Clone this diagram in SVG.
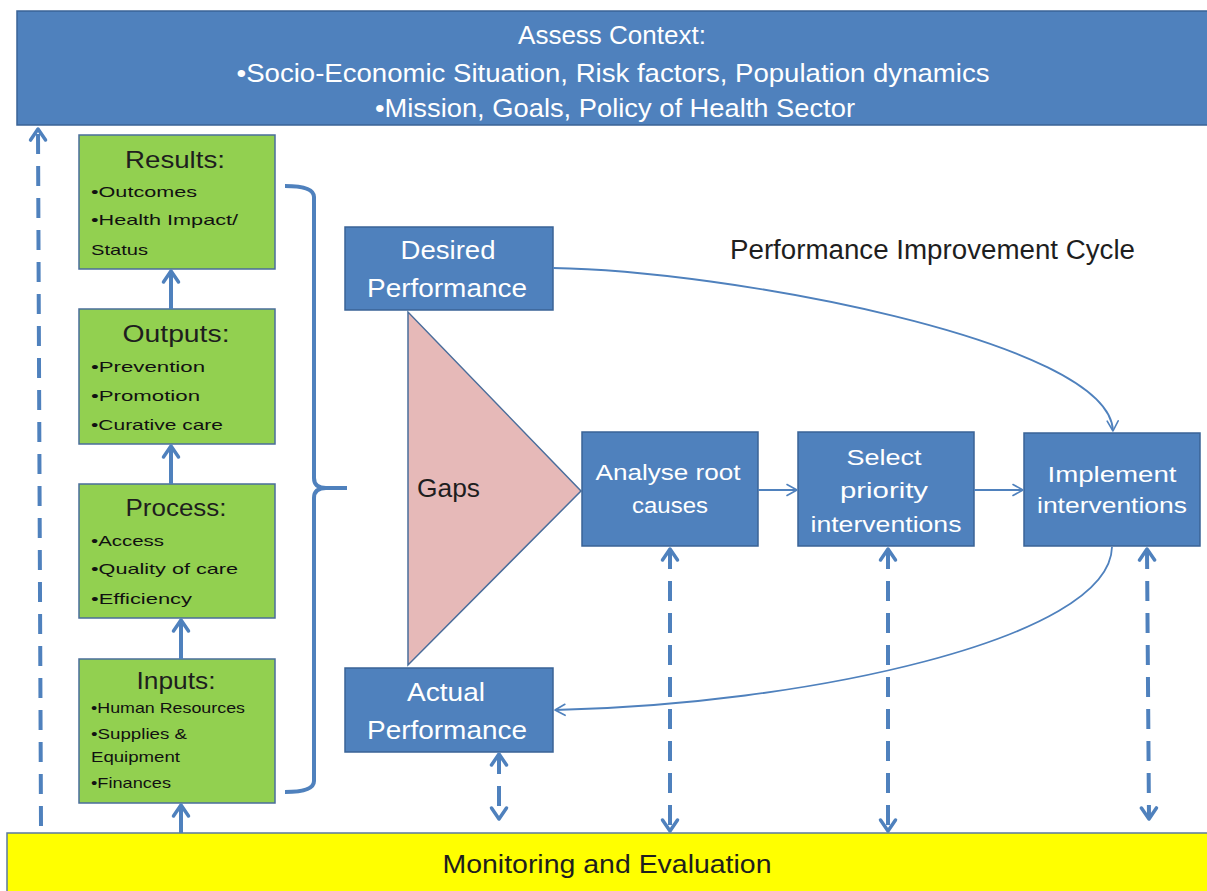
<svg xmlns="http://www.w3.org/2000/svg" width="1207" height="891" viewBox="0 0 1207 891">
<defs>
<style>
.blue{fill:#4F81BD;stroke:#3A6396;stroke-width:1.5}
.green{fill:#92D050;stroke:#4A6D9B;stroke-width:1.5}
.wt{fill:#FFFFFF;font-family:"Liberation Sans",Arial,sans-serif;text-anchor:middle}
.gt{fill:#1E1E1E;font-family:"Liberation Sans",Arial,sans-serif;text-anchor:middle;font-size:24px}
.gb{fill:#111111;font-family:"Liberation Sans",Arial,sans-serif;font-size:15px}
.dk{fill:#1E1E1E;font-family:"Liberation Sans",Arial,sans-serif}
.thick{fill:none;stroke:#4F81BD;stroke-width:4}
.dash{fill:none;stroke:#4F81BD;stroke-width:4;stroke-dasharray:20 12}
.thin{fill:none;stroke:#4F81BD;stroke-width:1.8}
</style>
<marker id="chev" viewBox="0 0 20 20" refX="15" refY="10" markerWidth="20" markerHeight="20" markerUnits="userSpaceOnUse" orient="auto-start-reverse">
<path d="M4,2.5 L15,10 L4,17.5" fill="none" stroke="#4F81BD" stroke-width="3.5" stroke-linecap="round" stroke-linejoin="round"/>
</marker>
<marker id="thinchev" viewBox="0 0 14 14" refX="12" refY="7" markerWidth="14" markerHeight="14" markerUnits="userSpaceOnUse" orient="auto-start-reverse">
<path d="M2,1.5 L12,7 L2,12.5" fill="none" stroke="#4F81BD" stroke-width="1.6" stroke-linecap="round" stroke-linejoin="round"/>
</marker>
</defs>
<rect width="1207" height="891" fill="#FFFFFF"/>

<g id="assess-context">
<rect class="blue" x="17" y="11" width="1195" height="114"/>
<text class="wt" x="612" y="44" font-size="26">Assess Context:</text>
<text class="wt" x="613" y="82" font-size="26" textLength="753" lengthAdjust="spacingAndGlyphs">•Socio-Economic Situation, Risk factors, Population dynamics</text>
<text class="wt" x="615" y="117" font-size="26" textLength="480" lengthAdjust="spacingAndGlyphs">•Mission, Goals, Policy of Health Sector</text>
</g>

<g id="monitoring-evaluation">
<rect x="7" y="833" width="1210" height="70" fill="#FFFF00" stroke="#5A7AA0" stroke-width="1.5"/>
<text class="dk" x="607" y="873" font-size="25" text-anchor="middle" textLength="329" lengthAdjust="spacingAndGlyphs">Monitoring and Evaluation</text>
</g>

<g id="results">
<rect class="green" x="79" y="135" width="196" height="134"/>
<text class="gt" x="175" y="168" textLength="100" lengthAdjust="spacingAndGlyphs">Results:</text>
<text class="gb" x="91" y="197" textLength="106" lengthAdjust="spacingAndGlyphs">•Outcomes</text>
<text class="gb" x="91" y="225" textLength="147" lengthAdjust="spacingAndGlyphs">•Health Impact/</text>
<text class="gb" x="91" y="255" textLength="57" lengthAdjust="spacingAndGlyphs">Status</text>
</g>

<g id="outputs">
<rect class="green" x="79" y="309" width="196" height="135"/>
<text class="gt" x="176" y="342" textLength="107" lengthAdjust="spacingAndGlyphs">Outputs:</text>
<text class="gb" x="91" y="372" textLength="114" lengthAdjust="spacingAndGlyphs">•Prevention</text>
<text class="gb" x="91" y="401" textLength="109" lengthAdjust="spacingAndGlyphs">•Promotion</text>
<text class="gb" x="91" y="430" textLength="132" lengthAdjust="spacingAndGlyphs">•Curative care</text>
</g>

<g id="process">
<rect class="green" x="79" y="484" width="196" height="134"/>
<text class="gt" x="176" y="516" textLength="101" lengthAdjust="spacingAndGlyphs">Process:</text>
<text class="gb" x="91" y="546" textLength="73" lengthAdjust="spacingAndGlyphs">•Access</text>
<text class="gb" x="91" y="574" textLength="147" lengthAdjust="spacingAndGlyphs">•Quality of care</text>
<text class="gb" x="91" y="604" textLength="101" lengthAdjust="spacingAndGlyphs">•Efficiency</text>
</g>

<g id="inputs">
<rect class="green" x="79" y="659" width="196" height="144"/>
<text class="gt" x="176" y="689" textLength="79" lengthAdjust="spacingAndGlyphs">Inputs:</text>
<text class="gb" x="91" y="713" textLength="154" lengthAdjust="spacingAndGlyphs">•Human Resources</text>
<text class="gb" x="91" y="739" textLength="96" lengthAdjust="spacingAndGlyphs">•Supplies &amp;</text>
<text class="gb" x="91" y="762" textLength="89" lengthAdjust="spacingAndGlyphs">Equipment</text>
<text class="gb" x="91" y="788" textLength="80" lengthAdjust="spacingAndGlyphs">•Finances</text>
</g>

<g id="gaps">
<polygon points="408,312 408,665 581,491" fill="#E6B9B8" stroke="#4A6D9B" stroke-width="1.5"/>
<text class="dk" x="417" y="497" font-size="25" textLength="63" lengthAdjust="spacingAndGlyphs">Gaps</text>
</g>

<g id="desired-performance">
<rect class="blue" x="345" y="227" width="208" height="83"/>
<text class="wt" x="448" y="259" font-size="26" textLength="95" lengthAdjust="spacingAndGlyphs">Desired</text>
<text class="wt" x="447" y="297" font-size="26" textLength="160" lengthAdjust="spacingAndGlyphs">Performance</text>
</g>

<g id="actual-performance">
<rect class="blue" x="345" y="668" width="208" height="84"/>
<text class="wt" x="446" y="701" font-size="26" textLength="78" lengthAdjust="spacingAndGlyphs">Actual</text>
<text class="wt" x="447" y="739" font-size="26" textLength="160" lengthAdjust="spacingAndGlyphs">Performance</text>
</g>

<g id="analyse-root-causes">
<rect class="blue" x="582" y="432" width="176" height="114"/>
<text class="wt" x="668" y="480" font-size="22" textLength="145" lengthAdjust="spacingAndGlyphs">Analyse root</text>
<text class="wt" x="670" y="513" font-size="22" textLength="76" lengthAdjust="spacingAndGlyphs">causes</text>
</g>

<g id="select-priority">
<rect class="blue" x="798" y="432" width="176" height="114"/>
<text class="wt" x="884" y="465" font-size="22" textLength="75" lengthAdjust="spacingAndGlyphs">Select</text>
<text class="wt" x="884" y="498" font-size="22" textLength="88" lengthAdjust="spacingAndGlyphs">priority</text>
<text class="wt" x="886" y="532" font-size="22" textLength="151" lengthAdjust="spacingAndGlyphs">interventions</text>
</g>

<g id="implement-interventions">
<rect class="blue" x="1024" y="433" width="176" height="113"/>
<text class="wt" x="1112" y="482" font-size="22" textLength="129" lengthAdjust="spacingAndGlyphs">Implement</text>
<text class="wt" x="1112" y="513" font-size="22" textLength="150" lengthAdjust="spacingAndGlyphs">interventions</text>
</g>

<g id="cycle-label">
<text class="dk" x="730" y="259" font-size="27" textLength="405" lengthAdjust="spacingAndGlyphs">Performance Improvement Cycle</text>
</g>

<g id="connectors">
<path class="thick" d="M285,186 Q314,186 314,197 V478 Q314,488 326,488 H347 M326,488 Q314,488 314,498 V781 Q314,792 285,792"/>
<line class="thick" x1="171" y1="309" x2="171" y2="271" marker-end="url(#chev)"/>
<line class="thick" x1="171" y1="484" x2="171" y2="446" marker-end="url(#chev)"/>
<line class="thick" x1="181" y1="659" x2="181" y2="620" marker-end="url(#chev)"/>
<line class="thick" x1="181" y1="833" x2="181" y2="805" marker-end="url(#chev)"/>
<line class="dash" x1="41" y1="826" x2="38" y2="129" marker-end="url(#chev)"/>
<path class="thin" d="M553,268 C720,270 1110,340 1113,431" marker-end="url(#thinchev)"/>
<path class="thin" d="M1112,547 C1110,640 800,705 555,710" marker-end="url(#thinchev)"/>
<line class="thin" x1="758" y1="490" x2="797" y2="490" marker-end="url(#thinchev)"/>
<line class="thin" x1="974" y1="490" x2="1023" y2="490" marker-end="url(#thinchev)"/>
<line class="dash" x1="670" y1="549" x2="670" y2="831" marker-start="url(#chev)" marker-end="url(#chev)"/>
<line class="dash" x1="888" y1="549" x2="888" y2="831" marker-start="url(#chev)" marker-end="url(#chev)"/>
<line class="dash" x1="1147" y1="549" x2="1149" y2="819" marker-start="url(#chev)" marker-end="url(#chev)"/>
<line class="dash" x1="499" y1="754" x2="499" y2="819" stroke-dasharray="26 14" marker-start="url(#chev)" marker-end="url(#chev)"/>
</g>
</svg>
